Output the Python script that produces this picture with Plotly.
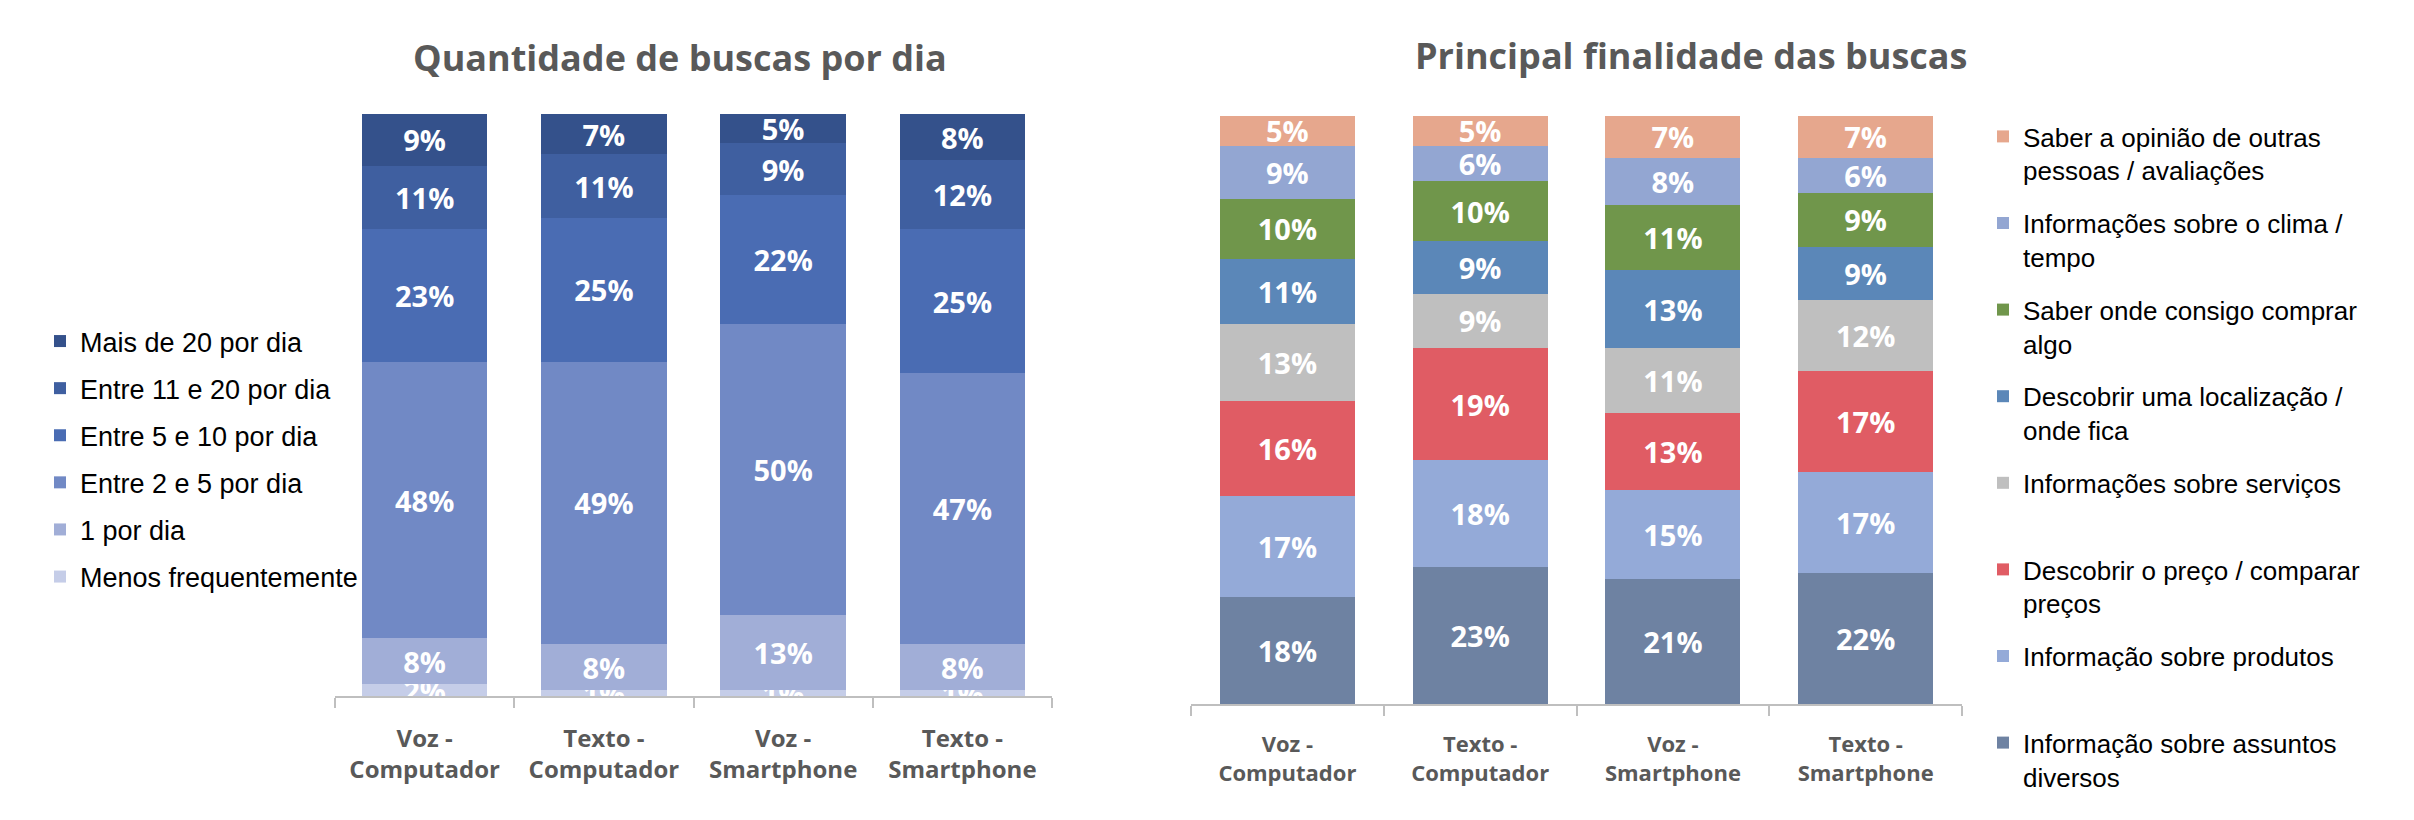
import plotly.graph_objects as go

# page offset (browser body margin) compensation
OFF = 8
W, H = 2414 - 2 * OFF, 820 - 2 * OFF

categories = ["Voz -<br>Computador", "Texto -<br>Computador", "Voz -<br>Smartphone", "Texto -<br>Smartphone"]

# ---- Left chart: Quantidade de buscas por dia (bottom to top) ----
freq_names = ["Menos frequentemente", "1 por dia", "Entre 2 e 5 por dia",
              "Entre 5 e 10 por dia", "Entre 11 e 20 por dia", "Mais de 20 por dia"]
menos_freq = [2, 1, 1, 1]
um_por_dia = [8, 8, 13, 8]
entre_2_5 = [48, 49, 50, 47]
entre_5_10 = [23, 25, 22, 25]
entre_11_20 = [11, 11, 9, 12]
mais_20 = [9, 7, 5, 8]
freq_colors = ["#C5CDE8", "#A1AED7", "#7189C5", "#4A6CB3", "#3F5FA0", "#34518B"]

# ---- Right chart: Principal finalidade das buscas (bottom to top) ----
purpose_names = ["Informação sobre assuntos<br>diversos",
                 "Informação sobre produtos<br>\u00a0",
                 "Descobrir o preço / comparar<br>preços",
                 "Informações sobre serviços<br>\u00a0",
                 "Descobrir uma localização /<br>onde fica",
                 "Saber onde consigo comprar<br>algo",
                 "Informações sobre o clima /<br>tempo",
                 "Saber a opinião de outras<br>pessoas / avaliações"]
assuntos = [18, 23, 21, 22]
produtos = [17, 18, 15, 17]
preco = [16, 19, 13, 17]
servicos = [13, 9, 11, 12]
localizacao = [11, 9, 13, 9]
comprar = [10, 10, 11, 9]
clima = [9, 6, 8, 6]
opiniao = [5, 5, 7, 7]
purpose_colors = ["#6E82A2", "#94AAD8", "#E05C64", "#BFBFBF",
                  "#5B87B8", "#70964B", "#93A6D2", "#E6A78D"]

freq_series = [menos_freq, um_por_dia, entre_2_5, entre_5_10, entre_11_20, mais_20]
purpose_series = [assuntos, produtos, preco, servicos, localizacao, comprar, clima, opiniao]

label_font = dict(family="Open Sans", size=29, color="white", weight=700)

fig = go.Figure()
n_f = len(freq_names)
for i, (name, vals, col) in enumerate(zip(freq_names, freq_series, freq_colors)):
    fig.add_trace(go.Bar(
        x=categories, y=vals, name=name, marker=dict(color=col, line=dict(width=0)),
        text=[f"{v}%" for v in vals], textposition="inside", insidetextanchor="middle",
        textangle=0, textfont=label_font, xaxis="x", yaxis="y",
        legend="legend", legendgroup=f"f{i}", legendrank=100 + (n_f - i)))

n_p = len(purpose_names)
for i, (name, vals, col) in enumerate(zip(purpose_names, purpose_series, purpose_colors)):
    fig.add_trace(go.Bar(
        x=categories, y=vals, name=name, marker=dict(color=col, line=dict(width=0)),
        text=[f"{v}%" for v in vals], textposition="inside", insidetextanchor="middle",
        textangle=0, textfont=label_font, xaxis="x2", yaxis="y2",
        legend="legend2", legendgroup=f"p{i}", legendrank=100 + (n_p - i)))


def px_x(p):
    return (p - OFF) / W


def px_y(p):
    return 1 - (p - OFF) / H


axis_common = dict(type="category", tickson="boundaries", ticks="outside", ticklen=10,
                   tickwidth=2, tickcolor="#BFBFBF", showline=True, linecolor="#BFBFBF",
                   linewidth=2, showgrid=False, zeroline=False, range=[-0.5, 3.5],
                   ticklabelstandoff=20)

legend_font = dict(family="Liberation Sans, Arial", color="black")

fig.update_layout(
    width=W, height=H,
    margin=dict(l=0, r=0, t=0, b=0),
    paper_bgcolor="white", plot_bgcolor="white",
    barmode="stack", barnorm="percent", bargap=0.3,
    uniformtext=dict(minsize=29, mode="show"),
    xaxis=dict(domain=[px_x(335), px_x(1052)], anchor="y",
               tickfont=dict(family="Open Sans", size=24, color="#595959", weight=700),
               **axis_common),
    yaxis=dict(domain=[px_y(696), px_y(114)], anchor="x", range=[0, 100], visible=False),
    xaxis2=dict(domain=[px_x(1191), px_x(1962)], anchor="y2",
                tickfont=dict(family="Open Sans", size=22, color="#595959", weight=700),
                **axis_common),
    yaxis2=dict(domain=[px_y(704), px_y(116)], anchor="x2", range=[0, 100], visible=False),
    legend=dict(x=px_x(40), y=px_y(317), xanchor="left", yanchor="top",
                traceorder="grouped", tracegroupgap=9,
                font=dict(size=27, **legend_font),
                bgcolor="rgba(0,0,0,0)"),
    legend2=dict(x=px_x(1983), y=px_y(113), xanchor="left", yanchor="top",
                 traceorder="grouped", tracegroupgap=16, valign="top",
                 font=dict(size=26, **legend_font),
                 bgcolor="rgba(0,0,0,0)"),
    annotations=[
        dict(text="Quantidade de buscas por dia", x=px_x(680), y=px_y(58),
             xref="paper", yref="paper", xanchor="center", yanchor="middle", showarrow=False,
             font=dict(family="Open Sans", size=36, color="#595959", weight=700)),
        dict(text="Principal finalidade das buscas", x=px_x(1691), y=px_y(56),
             xref="paper", yref="paper", xanchor="center", yanchor="middle", showarrow=False,
             font=dict(family="Open Sans", size=36, color="#595959", weight=700)),
    ],
)

fig.write_html("out.html")
